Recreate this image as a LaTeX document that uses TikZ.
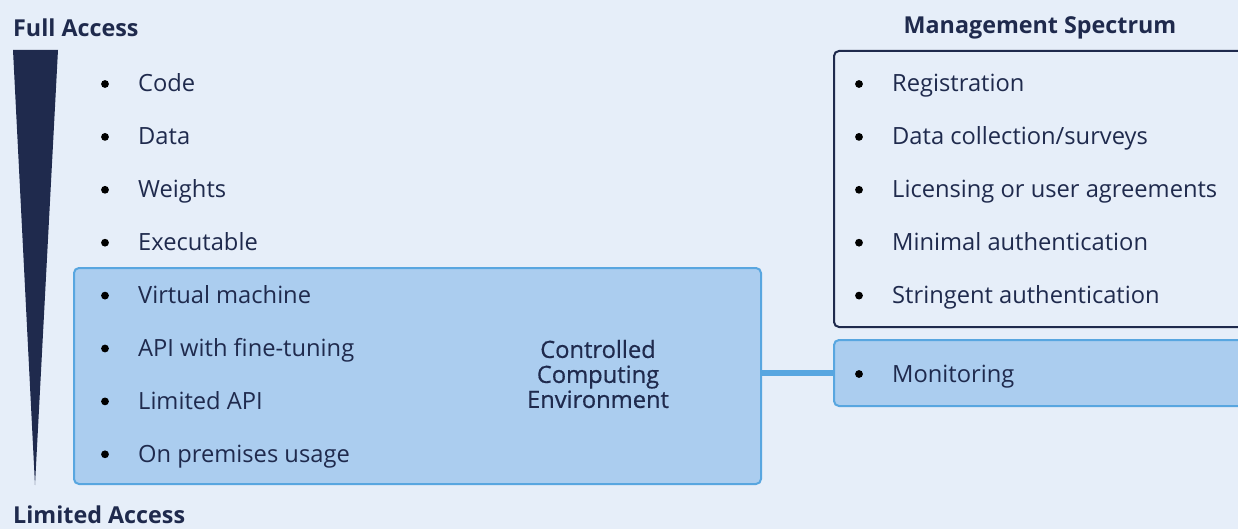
\documentclass[tikz,border=0pt]{standalone}
\usepackage{fontspec}
\setmainfont{Open Sans}
\newfontfamily\midfont[FakeBold=0.6]{Open Sans}
\usetikzlibrary{positioning}
\definecolor{pagebg}{HTML}{E6EEF9}
\definecolor{navy}{HTML}{1F2A4D}
\definecolor{boxfill}{HTML}{ABCDEF}
\definecolor{boxline}{HTML}{58A6E0}
\tikzset{
    heading/.style={
        font=\fontsize{23.3}{26}\selectfont\bfseries,
        text=navy,
        inner sep=0pt
    },
    item/.style={
        font=\fontsize{23.7}{25}\selectfont,
        text=navy,
        anchor=base west,
        inner sep=0pt
    },
    dot/.style={
        fill=black
    },
    ccebox/.style={
        draw=boxline,
        line width=2pt,
        fill=boxfill,
        rounded corners=5pt,
        anchor=north west
    },
    mgmtbox/.style={
        draw=navy,
        line width=2pt,
        rounded corners=5pt,
        anchor=north west
    },
    link/.style={
        draw=boxline,
        line width=6pt
    }
}

\begin{document}
\begin{tikzpicture}[x=1pt, y=-1pt]
    \useasboundingbox[fill=pagebg] (0,0) rectangle (1238,529);

    % access wedge
    \fill[navy] (13,50) -- (58,50) -- (35,485) -- cycle;
    \node[heading, anchor=west] (full) at (13,28) {Full Access};
    \node[heading, anchor=west] (limited) at (13,515) {Limited Access};

    % boxes
    \node[ccebox, minimum width=687pt, minimum height=216pt] (cce) at (73,267) {};
    \node[mgmtbox, minimum width=420pt, minimum height=276pt] (mgmt) at (833,50) {};
    \node[ccebox, minimum width=420pt, minimum height=66pt] (mon) at (833,339) {};
    \draw[link] (mon.west -| cce.east) -- (mon.west);

    \node[heading] (spectrum) at (1040,28) {Management Spectrum};

    % left column
    \node[item] (code) at (138,92) {Code};
    \node[item] (data) at ([yshift=-52.9pt]code.base west) {Data};
    \node[item] (weights) at ([yshift=-52.9pt]data.base west) {Weights};
    \node[item] (exec) at ([yshift=-52.9pt]weights.base west) {Executable};
    \node[item] (vm) at ([yshift=-52.9pt]exec.base west) {Virtual machine};
    \node[item] (api) at ([yshift=-52.9pt]vm.base west) {API with fine-tuning};
    \node[item] (limapi) at ([yshift=-52.9pt]api.base west) {Limited API};
    \node[item] (onprem) at ([yshift=-52.9pt]limapi.base west) {On premises usage};

    \node[item, font=\fontsize{23.7}{25}\midfont, anchor=center, align=center] (cceLabel) at (598,374) {Controlled\\Computing\\Environment};

    % right column
    \node[item] (reg) at (892,92) {Registration};
    \node[item] (survey) at ([yshift=-52.9pt]reg.base west) {Data collection/surveys};
    \node[item] (licence) at ([yshift=-52.9pt]survey.base west) {Licensing or user agreements};
    \node[item] (minauth) at ([yshift=-52.9pt]licence.base west) {Minimal authentication};
    \node[item] (strauth) at ([yshift=-52.9pt]minauth.base west) {Stringent authentication};
    \node[item] (monitor) at (892,382) {Monitoring};

    % bullets
    \foreach \n in {code,data,weights,exec,vm,api,limapi,onprem,reg,survey,licence,minauth,strauth,monitor}
        \fill[dot] ([xshift=-33pt, yshift=8pt]\n.base west) circle (3.9pt);
\end{tikzpicture}
\end{document}
